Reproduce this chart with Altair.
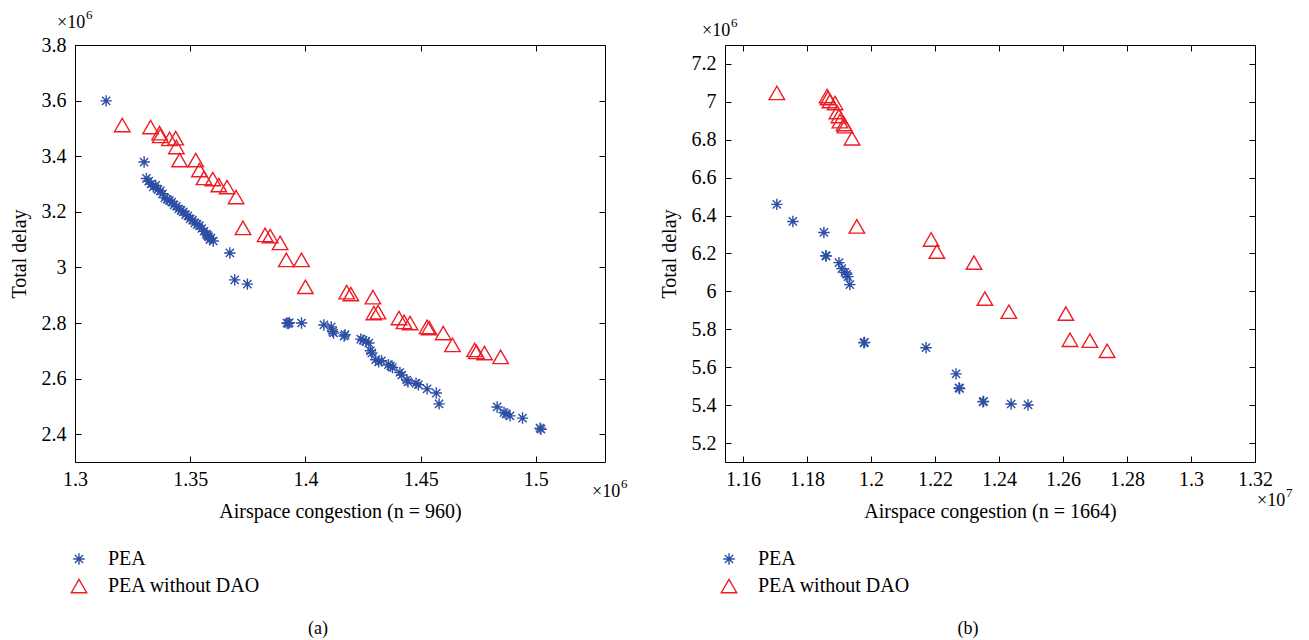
import altair as alt
import pandas as pd

FONT = "Liberation Serif, Times New Roman, serif"
BLUE = "#2d4ea5"
RED = "#ee1c25"
ASTERISK = "M0,-1L0,1M-1,0L1,0M-0.72,-0.72L0.72,0.72M-0.72,0.72L0.72,-0.72"

series_names = ["PEA", "PEA without DAO"]

# ---------- panel (a): values in units of 1e6 ----------
a_pea_x = [1.3135, 1.3300,
           1.3310, 1.3320, 1.3330, 1.3340, 1.3350, 1.3360, 1.3370, 1.3380, 1.3390, 1.3400,
           1.3410, 1.3420, 1.3430, 1.3440, 1.3450, 1.3460, 1.3470, 1.3480, 1.3490, 1.3500,
           1.3510, 1.3520, 1.3530, 1.3540, 1.3550, 1.3560, 1.3570, 1.3575, 1.3580, 1.3585,
           1.3590, 1.3600,
           1.3672, 1.3693, 1.3748,
           1.3920, 1.3925, 1.3930, 1.3983, 1.4080, 1.4112, 1.4118, 1.4122, 1.4168, 1.4172,
           1.4240, 1.4250, 1.4262, 1.4275, 1.4282, 1.4288, 1.4305, 1.4318, 1.4330, 1.4360,
           1.4370, 1.4378, 1.4410, 1.4418, 1.4440, 1.4445, 1.4480, 1.4490, 1.4528, 1.4568,
           1.4580, 1.4832, 1.4862, 1.4870, 1.4888, 1.4942, 1.5018, 1.5022]
a_pea_y = [3.599, 3.379,
           3.320, 3.310, 3.300, 3.290, 3.295, 3.280, 3.275, 3.265, 3.250, 3.245,
           3.240, 3.235, 3.225, 3.220, 3.210, 3.205, 3.200, 3.190, 3.185, 3.175,
           3.170, 3.160, 3.155, 3.150, 3.140, 3.130, 3.120, 3.115, 3.110, 3.100,
           3.105, 3.095,
           3.052, 2.955, 2.940,
           2.800, 2.798, 2.801, 2.800, 2.793, 2.786, 2.770, 2.764, 2.753, 2.758,
           2.742, 2.738, 2.734, 2.728, 2.700, 2.692, 2.668, 2.660, 2.664, 2.650,
           2.645, 2.640, 2.622, 2.613, 2.595, 2.588, 2.583, 2.578, 2.563, 2.548,
           2.509, 2.498, 2.478, 2.473, 2.466, 2.458, 2.422, 2.418]
a_tri_x = [1.3205, 1.3328, 1.3367, 1.3370, 1.3410, 1.3437, 1.3440, 1.3454, 1.3524, 1.3540,
           1.3560, 1.3598, 1.3624, 1.3660, 1.3699, 1.3729, 1.3825, 1.3847, 1.3890, 1.3917,
           1.3983, 1.4000, 1.4179, 1.4197, 1.4293, 1.4297, 1.4315, 1.4406, 1.4428, 1.4454,
           1.4528, 1.4537, 1.4598, 1.4638, 1.4734, 1.4742, 1.4777, 1.4847]
a_tri_y = [3.512, 3.505, 3.483, 3.473, 3.462, 3.465, 3.433, 3.386, 3.386, 3.350,
           3.322, 3.318, 3.296, 3.289, 3.253, 3.142, 3.117, 3.113, 3.088, 3.027,
           3.027, 2.930, 2.911, 2.904, 2.893, 2.836, 2.839, 2.818, 2.804, 2.800,
           2.786, 2.782, 2.764, 2.721, 2.703, 2.696, 2.692, 2.678]
a_xticks = [1.3, 1.35, 1.4, 1.45, 1.5]
a_yticks = [2.4, 2.6, 2.8, 3.0, 3.2, 3.4, 3.6, 3.8]

# ---------- panel (b): x in units of 1e7, y in units of 1e6 ----------
b_pea_x = [1.1706, 1.1756, 1.1853, 1.1859, 1.1860, 1.1900, 1.1909, 1.1919, 1.1924, 1.1928,
           1.1934, 1.1978, 1.1980, 1.2172, 1.2266, 1.2275, 1.2277, 1.2350, 1.2352, 1.2438,
           1.2491]
b_pea_y = [6.459, 6.369, 6.311, 6.189, 6.186, 6.152, 6.120, 6.100, 6.090, 6.078,
           6.036, 5.729, 5.731, 5.703, 5.565, 5.491, 5.488, 5.417, 5.420, 5.406,
           5.401]
b_tri_x = [1.1706, 1.1863, 1.1866, 1.1872, 1.1888, 1.1894, 1.1900, 1.1903, 1.1916, 1.1919,
           1.1941, 1.1956, 1.2188, 1.2206, 1.2322, 1.2356, 1.2431, 1.2609, 1.2622, 1.2684,
           1.2738]
b_tri_y = [7.047, 7.031, 7.020, 7.004, 6.994, 6.946, 6.925, 6.898, 6.883, 6.872,
           6.808, 6.343, 6.274, 6.210, 6.152, 5.962, 5.893, 5.883, 5.745, 5.740,
           5.687]
b_xticks = [1.16, 1.18, 1.2, 1.22, 1.24, 1.26, 1.28, 1.3, 1.32]
b_yticks = [5.2, 5.4, 5.6, 5.8, 6.0, 6.2, 6.4, 6.6, 6.8, 7.0, 7.2]

W, H = 530, 417


def txt(s, x, y, size, align="left", baseline="alphabetic"):
    return alt.Chart(pd.DataFrame({"t": [s]})).mark_text(
        font=FONT, fontSize=size, align=align, baseline=baseline, color="black"
    ).encode(x=alt.value(x), y=alt.value(y), text="t:N")


def panel(pea_x, pea_y, tri_x, tri_y, xdom, ydom, xticks, yticks, xtitle,
          top_exp, bot_exp, tag):
    df = pd.DataFrame({
        "x": pea_x + tri_x,
        "y": pea_y + tri_y,
        "s": [series_names[0]] * len(pea_x) + [series_names[1]] * len(tri_x),
    })
    xs = alt.Scale(domain=xdom, nice=False, zero=False)
    ys = alt.Scale(domain=ydom, nice=False, zero=False)
    leg = alt.Legend(title=None, orient="none", legendX=-6, legendY=504,
                     labelFont=FONT, labelFontSize=20, labelColor="black",
                     symbolStrokeWidth=1.4, rowPadding=7, labelOffset=19, padding=0)
    base = alt.Chart(df)
    pts = base.mark_point(filled=False, strokeWidth=1.4, opacity=1).encode(
        x=alt.X("x:Q", scale=xs, title=xtitle,
                axis=alt.Axis(orient="bottom", values=xticks, format="~g", ticks=False,
                              tickSize=0, domain=False, grid=False, labelPadding=7,
                              labelFlush=False, titlePadding=12)),
        y=alt.Y("y:Q", scale=ys, title="Total delay",
                axis=alt.Axis(orient="left", values=yticks, format="~g", ticks=False,
                              tickSize=0, domain=False, grid=False, labelPadding=9,
                              labelFlush=False, titlePadding=12)),
        color=alt.Color("s:N", scale=alt.Scale(domain=series_names, range=[BLUE, RED]),
                        legend=leg),
        shape=alt.Shape("s:N", scale=alt.Scale(domain=series_names,
                                               range=[ASTERISK, "triangle-up"]),
                        legend=leg),
        size=alt.Size("s:N", scale=alt.Scale(domain=series_names, range=[130, 240]),
                      legend=leg),
    )
    t1 = base.mark_point(opacity=0).encode(
        x=alt.X("x:Q", scale=xs, title=None,
                axis=alt.Axis(orient="top", offset=-H, values=xticks, labels=False,
                              domain=False, grid=False, tickSize=6, tickColor="black")),
        y=alt.Y("y:Q", scale=ys, title=None,
                axis=alt.Axis(orient="right", offset=-W, values=yticks, labels=False,
                              domain=False, grid=False, tickSize=6, tickColor="black")),
    )
    t2 = base.mark_point(opacity=0).encode(
        x=alt.X("x:Q", scale=xs, title=None,
                axis=alt.Axis(orient="bottom", offset=-H, values=xticks, labels=False,
                              domain=False, grid=False, tickSize=6, tickColor="black")),
        y=alt.Y("y:Q", scale=ys, title=None,
                axis=alt.Axis(orient="left", offset=-W, values=yticks, labels=False,
                              domain=False, grid=False, tickSize=6, tickColor="black")),
    )
    (tx, ty, texp), (bx, by, bexp) = top_exp, bot_exp
    texts = [
        txt("×10", tx, ty, 18),
        txt(texp, tx + 29, ty - 9, 13),
        txt("×10", bx, by, 18),
        txt(bexp, bx + 29, by - 9, 13),
        txt(tag, 243, 584, 18, align="center", baseline="middle"),
    ]
    return alt.layer(pts, t1, t2, *texts).resolve_axis(
        x="independent", y="independent"
    ).properties(width=W, height=H)


pa = panel(a_pea_x, a_pea_y, a_tri_x, a_tri_y, [1.3, 1.53], [2.3, 3.8],
           a_xticks, a_yticks, "Airspace congestion (n = 960)",
           (-18, -17, "6"), (517, 452, "6"), "(a)")
pb = panel(b_pea_x, b_pea_y, b_tri_x, b_tri_y, [1.1544, 1.32], [5.1, 7.3],
           b_xticks, b_yticks, "Airspace congestion (n = 1664)",
           (-23, -9, "6"), (532, 461, "7"), "(b)")

chart = alt.hconcat(pa, pb, spacing=120, bounds="flush").resolve_scale(
    color="independent", shape="independent", size="independent"
).resolve_legend(
    color="independent", shape="independent", size="independent"
).properties(
    padding={"left": 0, "top": 0, "right": 5, "bottom": 0}
).configure(font=FONT).configure_view(
    stroke="black", strokeWidth=1
).configure_axis(
    labelFont=FONT, labelFontSize=20, labelColor="black",
    titleFont=FONT, titleFontSize=20, titleFontWeight="normal", titleColor="black",
)

chart.save("out.html", embed_options={"renderer": "svg", "actions": False})
